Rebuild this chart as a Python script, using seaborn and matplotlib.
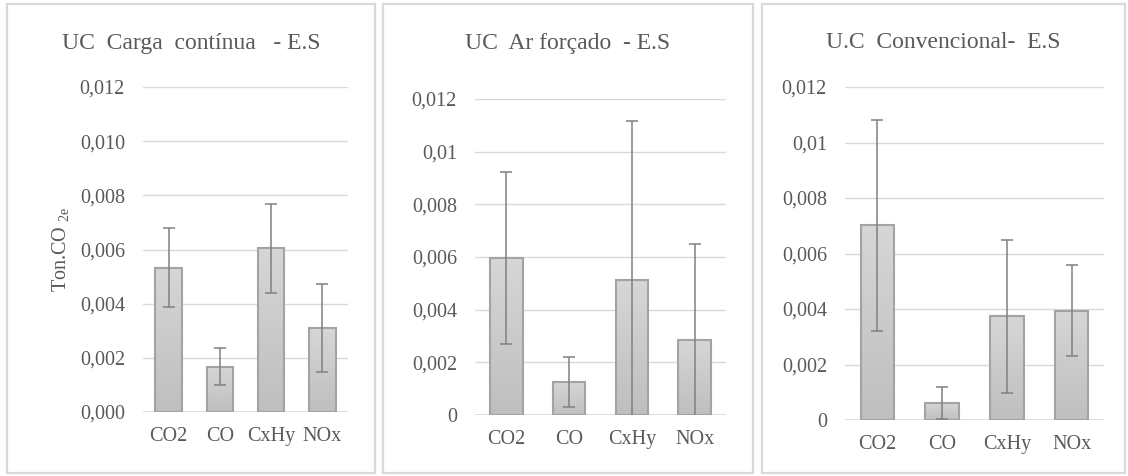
import numpy as np
import pandas as pd
import matplotlib
matplotlib.use("Agg")
import matplotlib.pyplot as plt
import seaborn as sns
from matplotlib.patches import Rectangle
from matplotlib.colors import LinearSegmentedColormap

categories = ['CO2', 'CO', 'CxHy', 'NOx']

carga = [0.00533, 0.00167, 0.00604, 0.00309]
carga_err = [0.00146, 0.00069, 0.00165, 0.00162]

ar = [0.00596, 0.00124, 0.00513, 0.00285]
ar_err = [0.00327, 0.00095, 0.00602, 0.00364]

conv = [0.00701, 0.00062, 0.00373, 0.00394]
conv_err = [0.00381, 0.00058, 0.00276, 0.00164]

titles = ['UC  Carga  contínua   - E.S', 'UC  Ar forçado  - E.S', 'U.C  Convencional-  E.S']
yticks = [0, 0.002, 0.004, 0.006, 0.008, 0.010, 0.012]
ylabels_1 = ['0,000', '0,002', '0,004', '0,006', '0,008', '0,010', '0,012']
ylabels_23 = ['0', '0,002', '0,004', '0,006', '0,008', '0,01', '0,012']

sns.set_theme(style='white')
plt.rcParams['font.family'] = ['Liberation Serif', 'DejaVu Serif']
plt.rcParams['mathtext.default'] = 'regular'

W, H = 1128, 476
fig = plt.figure(figsize=(W / 100, H / 100), dpi=100)
fig.patch.set_facecolor('white')

txt = '#595959'
grad = LinearSegmentedColormap.from_list('g', ['#bfbfbf', '#d6d6d6'])

# panel frames (pixels: x0, x1) and axes boxes (left, right, y top, y zero)
frames = [(7, 375), (383, 753), (762, 1125)]
boxes = [(143, 348, 87, 412), (475, 726, 99, 415), (845, 1104, 87, 420)]
series = [(carga, carga_err, ylabels_1), (ar, ar_err, ylabels_23), (conv, conv_err, ylabels_23)]

for (fx0, fx1), (l, r, t, b), (vals, errs, ylab), title in zip(frames, boxes, series, titles):
    fig.add_artist(Rectangle((fx0 / W, 1 - 473 / H), (fx1 - fx0) / W, (473 - 4) / H,
                             transform=fig.transFigure, fill=False,
                             edgecolor='#d9d9d9', lw=1.6))
    fig.text((fx0 + fx1) / 2 / W, 1 - 43 / H, title, ha='center', va='center',
             fontsize=17, color=txt)

    ax = fig.add_axes([l / W, 1 - b / H, (r - l) / W, (b - t) / H])
    df = pd.DataFrame({'gas': categories, 'val': vals})
    sns.barplot(data=df, x='gas', y='val', color='#c9c9c9', width=0.52,
                edgecolor='#a3a3a3', linewidth=1.5, ax=ax, zorder=3)

    # gradient fill inside each bar
    xs = []
    for bar in ax.patches:
        x0, w, h = bar.get_x(), bar.get_width(), bar.get_height()
        xs.append(x0 + w / 2)
        im = ax.imshow(np.linspace(0, 1, 50).reshape(-1, 1), extent=[x0, x0 + w, 0, h],
                       origin='lower', cmap=grad, aspect='auto', zorder=3.5)
        im.set_clip_path(bar)
        bar.set_facecolor('none')
        bar.set_zorder(4)

    ax.errorbar(xs, vals, yerr=errs, fmt='none', ecolor='#808080', elinewidth=1.1,
                capsize=4.5, capthick=1.1, zorder=5)

    ax.set_xlim(-0.5, 3.5)
    ax.set_ylim(0, 0.012)
    ax.set_yticks(yticks)
    ax.set_yticklabels(ylab)
    ax.yaxis.grid(True, color='#d9d9d9', lw=1)
    ax.set_axisbelow(True)
    ax.axhline(0, color='#d9d9d9', lw=1.2, zorder=2)
    for s in ax.spines.values():
        s.set_visible(False)
    ax.tick_params(axis='y', length=0, pad=13, labelsize=14.5, labelcolor=txt)
    ax.tick_params(axis='x', length=0, pad=11, labelsize=14.5, labelcolor=txt)
    ax.set_xlabel('')
    ax.set_ylabel('')
    ax.set_facecolor('white')

    if vals is carga:
        ax.set_ylabel('Ton.CO $_{2e}$', fontsize=14.5, color=txt)
        ax.yaxis.set_label_coords(-0.35, 0.5)

fig.savefig('out.png', dpi=100, facecolor='white')
